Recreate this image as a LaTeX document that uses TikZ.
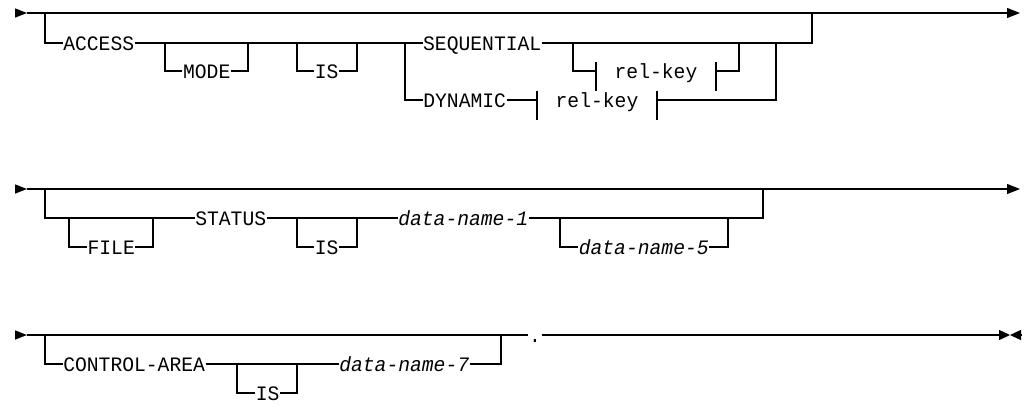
\documentclass[tikz,border=0pt]{standalone}
\usepackage{fontspec}
\setmonofont[FakeStretch=0.96]{Liberation Mono}
\usetikzlibrary{arrows.meta}

\begin{document}
\begin{tikzpicture}[
        x=1pt, y=-1pt,
        line width=1.35pt,
        font=\ttfamily\fontsize{20.5}{22}\selectfont,
        kw/.style={
            anchor=west,
            inner xsep=0pt,
            inner ysep=0pt,
            text height=14pt,
            text depth=0pt
        },
        var/.style={
            kw,
            font=\ttfamily\itshape\fontsize{20.5}{22}\selectfont
        },
        frag/.style={
            kw,
            inner xsep=18pt
        },
        entry/.style={-{Triangle[length=12pt,width=9pt]}},
        exit/.style={-{Triangle[length=13pt,width=10pt]}},
        stop/.style={-{Triangle[length=11pt,width=10pt]}}
    ]
    \useasboundingbox (0,0) rectangle (1024,405);

    % ACCESS MODE IS SEQUENTIAL / DYNAMIC
    \node[kw] (access) at (62.6,43) {ACCESS};
    \node[kw] (mode) at (182.4,71) {MODE};
    \node[kw] (is1) at (314.2,71) {IS};
    \node[kw] (seq) at (422.5,43) {SEQUENTIAL};
    \node[kw] (dyn) at (422.7,100) {DYNAMIC};
    \node[frag] (rk1) at (596,71) {rel-key};
    \node[frag] (rk2) at (537,100) {rel-key};

    \coordinate (a-in) at (15,13);
    \coordinate (a0) at (27,13);
    \coordinate (a1) at (45,13);
    \coordinate (a2) at (812,13);
    \coordinate (a-out) at (1020,13);
    \coordinate (m1) at (165,43);
    \coordinate (m2) at (248,43);
    \coordinate (i1) at (297,43);
    \coordinate (i2) at (357,43);
    \coordinate (fork) at (405,43);
    \coordinate (s1) at (573,43);
    \coordinate (s2) at (739,43);
    \coordinate (d2) at (776,43);
    \coordinate (a3) at (812,43);

    \draw[entry] (a-in) -- (a0);
    \draw[exit] (a0) -- (a-out);
    \draw (a1) |- (access.west);
    \draw (access.east) -- (fork);
    \draw (m1) |- (mode.west);
    \draw (mode.east) -| (m2);
    \draw (i1) |- (is1.west);
    \draw (is1.east) -| (i2);
    \draw (fork) -- (seq.west);
    \draw (fork) |- (dyn.west);
    \draw (seq.east) -- (a3) -- (a2);
    \draw (s1) |- (rk1.west);
    \draw (rk1.east) -| (s2);
    \draw (dyn.east) -- (rk2.west);
    \draw (rk2.east) -| (d2);
    \draw ([yshift=9pt]rk1.west) -- ([yshift=-20pt]rk1.west);
    \draw ([yshift=9pt]rk1.east) -- ([yshift=-20pt]rk1.east);
    \draw ([yshift=9pt]rk2.west) -- ([yshift=-20pt]rk2.west);
    \draw ([yshift=9pt]rk2.east) -- ([yshift=-20pt]rk2.east);

    % FILE STATUS IS data-name-1 data-name-5
    \node[kw] (file) at (86.9,247) {FILE};
    \node[kw] (status) at (194.6,218) {STATUS};
    \node[kw] (is2) at (314.2,247) {IS};
    \node[var] (dn1) at (397.6,218) {data-name-1};
    \node[var] (dn5) at (578.1,247) {data-name-5};

    \coordinate (b-in) at (15,189);
    \coordinate (b0) at (27,189);
    \coordinate (b1) at (45,189);
    \coordinate (b2) at (763,189);
    \coordinate (b-out) at (1020,189);
    \coordinate (f1) at (69,218);
    \coordinate (f2) at (153,218);
    \coordinate (i3) at (297,218);
    \coordinate (i4) at (357,218);
    \coordinate (g1) at (560,218);
    \coordinate (g2) at (728,218);

    \draw[entry] (b-in) -- (b0);
    \draw[exit] (b0) -- (b-out);
    \draw (b1) |- (status.west);
    \draw (f1) |- (file.west);
    \draw (file.east) -| (f2);
    \draw (status.east) -- (dn1.west);
    \draw (i3) |- (is2.west);
    \draw (is2.east) -| (i4);
    \draw (dn1.east) -| (b2);
    \draw (g1) |- (dn5.west);
    \draw (dn5.east) -| (g2);

    % CONTROL-AREA IS data-name-7 .
    \node[kw] (ctrl) at (62.6,364) {CONTROL-AREA};
    \node[kw] (is3) at (255.2,393) {IS};
    \node[var] (dn7) at (338.6,364) {data-name-7};
    \node[kw, anchor=center] (dot) at (535,335) {.};

    \coordinate (c-in) at (15,335);
    \coordinate (c0) at (27,335);
    \coordinate (c1) at (45,335);
    \coordinate (c2) at (501,335);
    \coordinate (h1) at (237,364);
    \coordinate (h2) at (297,364);
    \coordinate (c-end) at (1010,335);
    \coordinate (c-back) at (1021,335);

    \draw[entry] (c-in) -- (c0);
    \draw (c0) -- (dot.west);
    \draw (c1) |- (ctrl.west);
    \draw (ctrl.east) -- (dn7.west);
    \draw (h1) |- (is3.west);
    \draw (is3.east) -| (h2);
    \draw (dn7.east) -| (c2);
    \draw[stop] (dot.east) -- (c-end);
    \draw[stop] (c-back) -- (c-end);
    \end{tikzpicture}
\end{document}
